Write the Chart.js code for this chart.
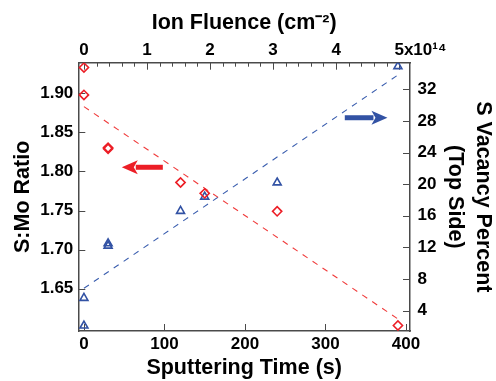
<!DOCTYPE html>
<html><head><meta charset="utf-8">
<script src="https://cdn.jsdelivr.net/npm/chart.js@4/dist/chart.umd.min.js"></script>
<style>html,body{margin:0;padding:0;background:#fff;} #wrap{width:496px;height:381px;position:relative;}</style>
</head><body><div id="wrap"><canvas id="c"></canvas></div>
<script>
// ---- data ----
const ratioTime = [0, 0, 30, 30, 120, 150, 240, 390];
const ratioValues = [1.933, 1.898, 1.8305, 1.829, 1.786, 1.772, 1.749, 1.603];
const vacancyTime = [0, 0, 30, 30, 120, 150, 240, 390];
const vacancyValues = [5.6, 2.1, 12.2, 12.5, 16.6, 18.4, 20.2, 34.9];
const ratioFitTime = [0, 389];
const ratioFitValues = [1.883, 1.612];
const vacancyFitTime = [0, 390];
const vacancyFitValues = [6.83, 33.8];
const timeTicks = [0, 100, 200, 300, 400];
const fluenceTicks = [0, 1, 2, 3, 4, 5];
const fluenceMinorTicks = [0.2,0.4,0.6,0.8,1.2,1.4,1.6,1.8,2.2,2.4,2.6,2.8,3.2,3.4,3.6,3.8,4.2,4.4,4.6,4.8];
const ratioTicks = [1.65, 1.70, 1.75, 1.80, 1.85, 1.90];
const vacancyTicks = [4, 8, 12, 16, 20, 24, 28, 32];
// arrows (data units): [x1, x2, y]
const ratioArrow = [98, 47, 1.8054];
const vacancyArrow = [324, 377, 28.4];

const RED = 'rgb(236,30,38)';
const BLUE = 'rgb(50,82,164)';
const AXIS = '#4a4a4a';
const F = "'Liberation Sans', Arial, Helvetica, sans-serif";
const tickFont = {family: F, size: 17, weight: 'bold'};

const frame = {
  id: 'frame',
  beforeDatasetsDraw(chart) {
    const ctx = chart.ctx, a = chart.chartArea, s = chart.scales;
    ctx.save();
    ctx.strokeStyle = AXIS; ctx.lineWidth = 1;
    ctx.beginPath();
    timeTicks.forEach(v => { const p = Math.round(s.x.getPixelForValue(v)) + 0.5; ctx.moveTo(p, a.bottom); ctx.lineTo(p, a.bottom - 7); });
    fluenceTicks.forEach(v => { const p = Math.round(s.x2.getPixelForValue(v)) + 0.5; ctx.moveTo(p, a.top); ctx.lineTo(p, a.top + 7); });
    fluenceMinorTicks.forEach(v => { const p = Math.round(s.x2.getPixelForValue(v)) + 0.5; ctx.moveTo(p, a.top); ctx.lineTo(p, a.top + 4); });
    ratioTicks.forEach(v => { const p = Math.round(s.y.getPixelForValue(v)) + 0.5; ctx.moveTo(a.left, p); ctx.lineTo(a.left + 7, p); });
    vacancyTicks.forEach(v => { const p = Math.round(s.y2.getPixelForValue(v)) + 0.5; ctx.moveTo(a.right, p); ctx.lineTo(a.right - 7, p); });
    ctx.stroke();
    ctx.restore();
  },
  afterDatasetsDraw(chart) {
    const ctx = chart.ctx, s = chart.scales;
    function arrow(xs, ys, spec, color) {
      const x1 = xs.getPixelForValue(spec[0]), x2 = xs.getPixelForValue(spec[1]), y = ys.getPixelForValue(spec[2]);
      const dir = Math.sign(x2 - x1), head = 16, half = 7;
      ctx.save();
      ctx.strokeStyle = color; ctx.fillStyle = color; ctx.lineWidth = 5;
      ctx.beginPath(); ctx.moveTo(x1, y); ctx.lineTo(x2 - dir * (head - 2), y); ctx.stroke();
      ctx.beginPath(); ctx.moveTo(x2, y); ctx.lineTo(x2 - dir * head, y - half); ctx.lineTo(x2 - dir * (head - 4), y); ctx.lineTo(x2 - dir * head, y + half); ctx.closePath(); ctx.fill();
      ctx.restore();
    }
    arrow(s.x, s.y, ratioArrow, RED);
    arrow(s.x, s.y2, vacancyArrow, BLUE);
  }
};

function fixTicks(values) { return s => { s.ticks = values.map(v => ({value: v})); }; }
const common = {
  grid: {drawOnChartArea: false, drawTicks: false},
  border: {display: true, color: AXIS, width: 1.5}
};

new Chart(document.getElementById('c'), {
  type: 'scatter',
  data: {datasets: [
    {label: 'S:Mo Ratio', data: ratioTime.map((t, i) => ({x: t, y: ratioValues[i]})), xAxisID: 'x', yAxisID: 'y',
     pointStyle: 'rectRot', pointRadius: 4.6, borderColor: RED, backgroundColor: 'rgba(0,0,0,0)', borderWidth: 1.6, showLine: false},
    {label: 'S Vacancy Percent', data: vacancyTime.map((t, i) => ({x: t, y: vacancyValues[i]})), xAxisID: 'x', yAxisID: 'y2',
     pointStyle: 'triangle', pointRadius: 4.6, borderColor: BLUE, backgroundColor: 'rgba(0,0,0,0)', borderWidth: 1.6, showLine: false},
    {label: 'ratio fit', data: ratioFitTime.map((t, i) => ({x: t, y: ratioFitValues[i]})), xAxisID: 'x', yAxisID: 'y',
     showLine: true, borderColor: 'rgb(240,60,60)', borderWidth: 1.1, borderDash: [6, 6], pointRadius: 0},
    {label: 'vacancy fit', data: vacancyFitTime.map((t, i) => ({x: t, y: vacancyFitValues[i]})), xAxisID: 'x', yAxisID: 'y2',
     showLine: true, borderColor: 'rgb(60,95,175)', borderWidth: 1.1, borderDash: [6, 6], pointRadius: 0}
  ]},
  options: {
    responsive: true, maintainAspectRatio: false, animation: false,
    layout: {padding: 0},
    plugins: {legend: {display: false}, tooltip: {enabled: false}},
    scales: {
      x: {...common, type: 'linear', axis: 'x', position: 'bottom', min: -7, max: 405,
          afterBuildTicks: fixTicks(timeTicks), afterFit: s => { s.height = 50; },
          ticks: {font: tickFont, color: '#000', padding: 3.5, maxRotation: 0, autoSkip: false},
          title: {display: true, text: 'Sputtering Time (s)', color: '#000', padding: 0,
                  font: {family: F, size: 21.5, weight: 'bold', lineHeight: 1.2}}},
      x2: {...common, type: 'linear', axis: 'x', position: 'top', min: -0.089, max: 5.172,
          afterBuildTicks: fixTicks(fluenceTicks), afterFit: s => { s.height = 62.7; },
          ticks: {font: tickFont, color: '#000', padding: 2.5, maxRotation: 0, autoSkip: false,
                  callback: v => v === 5 ? '         5x10\u00B9\u2074' : String(v)},
          title: {display: true, text: 'Ion Fluence (cm\u207B\u00B2)', color: '#000', padding: {top: 10, bottom: 0},
                  font: {family: F, size: 21.5, weight: 'bold', lineHeight: 1.2}}},
      y: {...common, type: 'linear', position: 'left', min: 1.5959, max: 1.9392,
          afterBuildTicks: fixTicks(ratioTicks), afterFit: s => { s.width = 78.3; },
          ticks: {font: tickFont, color: '#000', padding: 5, autoSkip: false, callback: v => v.toFixed(2)},
          title: {display: true, text: 'S:Mo Ratio', color: '#000', padding: {top: 9, bottom: 0},
                  font: {family: F, size: 21.5, weight: 'bold', lineHeight: 1.3}}},
      y2: {...common, type: 'linear', position: 'right', min: 1.43, max: 35.36,
          afterBuildTicks: fixTicks(vacancyTicks), afterFit: s => { s.width = 86; },
          ticks: {font: tickFont, color: '#000', padding: 7.5, autoSkip: false},
          title: {display: true, text: ['S Vacancy Percent', '(Top Side)'], color: '#000', padding: {top: -1, bottom: 0},
                  font: {family: F, size: 21.5, weight: 'bold', lineHeight: 1.3}}}
    }
  },
  plugins: [frame]
});
</script></body></html>
